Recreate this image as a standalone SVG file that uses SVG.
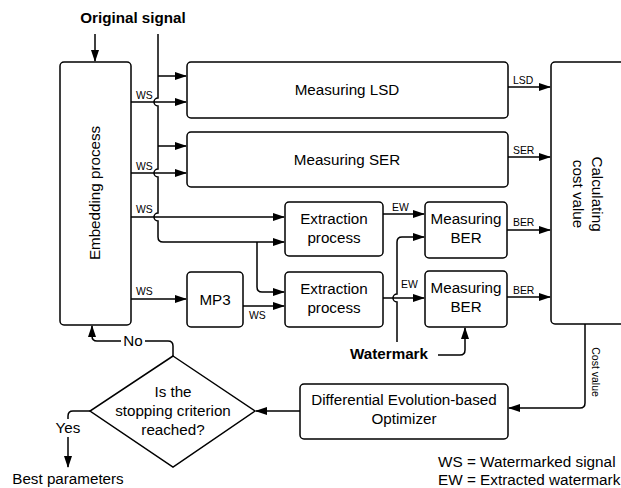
<svg xmlns="http://www.w3.org/2000/svg" width="621" height="488" viewBox="0 0 621 488">
<style>
.box{fill:#fff;stroke:#000;stroke-width:1.5}
.ln{fill:none;stroke:#000;stroke-width:1.5}
.t{font-family:"Liberation Sans",Arial,sans-serif;font-size:15.2px;fill:#000;text-anchor:middle}
.b{font-weight:bold}
.s{font-family:"Liberation Sans",Arial,sans-serif;font-size:10.4px;fill:#000}
.lg{font-family:"Liberation Sans",Arial,sans-serif;font-size:15.3px;fill:#000}
</style>
<defs>
<marker id="ar" markerWidth="12" markerHeight="8" refX="11" refY="4" orient="auto" markerUnits="userSpaceOnUse">
<path d="M0,0 L12,4 L0,8 Z" fill="#000"/>
</marker>
</defs>
<rect width="621" height="488" fill="#fff"/>

<g id="connectors">
<path class="ln" d="M95 34 V61" marker-end="url(#ar)"/>
<path class="ln" d="M158 34 V98 A4 4 0 0 0 158 106 V169 A4 4 0 0 0 158 177 V213 A4 4 0 0 0 158 221 V237 Q158 242 163 242 H284" marker-end="url(#ar)"/>
<path class="ln" d="M158 76 H186" marker-end="url(#ar)"/>
<path class="ln" d="M158 146 H186" marker-end="url(#ar)"/>
<path class="ln" d="M131 102 H186" marker-end="url(#ar)"/>
<path class="ln" d="M131 173 H186" marker-end="url(#ar)"/>
<path class="ln" d="M131 217 H284" marker-end="url(#ar)"/>
<path class="ln" d="M131 299 H186" marker-end="url(#ar)"/>
<path class="ln" d="M257 242 V287 Q257 292 262 292 H284" marker-end="url(#ar)"/>
<path class="ln" d="M243 306 H284" marker-end="url(#ar)"/>
<path class="ln" d="M383 214 H424" marker-end="url(#ar)"/>
<path class="ln" d="M383 298 H424" marker-end="url(#ar)"/>
<path class="ln" d="M397 342 V302 A4 4 0 0 1 397 294 V242 Q397 237 402 237 H424" marker-end="url(#ar)"/>
<path class="ln" d="M438 355 H460 Q465 355 465 350 V328" marker-end="url(#ar)"/>
<path class="ln" d="M508 87 H550" marker-end="url(#ar)"/>
<path class="ln" d="M508 157 H550" marker-end="url(#ar)"/>
<path class="ln" d="M507 230 H550" marker-end="url(#ar)"/>
<path class="ln" d="M507 297 H550" marker-end="url(#ar)"/>
<path class="ln" d="M585 324 V403 Q585 408 580 408 H509" marker-end="url(#ar)"/>
<path class="ln" d="M300 411 H256" marker-end="url(#ar)"/>
<path class="ln" d="M173 356 V346 Q173 341 168 341 H97 Q92 341 92 336 V326" marker-end="url(#ar)"/>
<path class="ln" d="M90 411 H73 Q68 411 68 416 V467" marker-end="url(#ar)"/>
<rect x="121" y="333" width="24" height="16" fill="#fff"/>
<rect x="54" y="419" width="28" height="18" fill="#fff"/>
<text class="t" x="133" y="346">No</text>
<text class="t" x="68" y="433">Yes</text>
<text class="s" x="136" y="99">WS</text>
<text class="s" x="136" y="170">WS</text>
<text class="s" x="136" y="213">WS</text>
<text class="s" x="136" y="295">WS</text>
<text class="s" x="249" y="319">WS</text>
<text class="s" x="392" y="211">EW</text>
<text class="s" x="401" y="288">EW</text>
<text class="s" x="513" y="84">LSD</text>
<text class="s" x="513" y="154">SER</text>
<text class="s" x="513" y="226">BER</text>
<text class="s" x="513" y="294">BER</text>
<text class="s" transform="translate(592 372) rotate(90)" text-anchor="middle" style="font-size:10.5px">Cost value</text>
</g>

<text class="t b" x="133" y="23">Original signal</text>
<text class="t b" x="389" y="359">Watermark</text>

<g id="embedding">
<rect class="box" x="60" y="62" width="71" height="263" rx="4"/>
<text class="t" transform="translate(100 193) rotate(-90)">Embedding process</text>
</g>
<g id="lsd">
<rect class="box" x="187" y="62" width="321" height="56" rx="4"/>
<text class="t" x="347" y="95">Measuring LSD</text>
</g>
<g id="ser">
<rect class="box" x="187" y="132" width="321" height="55" rx="4"/>
<text class="t" x="347" y="165">Measuring SER</text>
</g>
<g id="extract1">
<rect class="box" x="285" y="202" width="98" height="54" rx="4"/>
<text class="t" x="334" y="224">Extraction</text>
<text class="t" x="334" y="243">process</text>
</g>
<g id="extract2">
<rect class="box" x="285" y="272" width="98" height="55" rx="4"/>
<text class="t" x="334" y="294">Extraction</text>
<text class="t" x="334" y="313">process</text>
</g>
<g id="mp3">
<rect class="box" x="187" y="272" width="56" height="55" rx="4"/>
<text class="t" x="215" y="305">MP3</text>
</g>
<g id="ber1">
<rect class="box" x="425" y="202" width="82" height="56" rx="4"/>
<text class="t" x="466" y="224">Measuring</text>
<text class="t" x="466" y="243">BER</text>
</g>
<g id="ber2">
<rect class="box" x="425" y="271" width="82" height="56" rx="4"/>
<text class="t" x="466" y="293">Measuring</text>
<text class="t" x="466" y="312">BER</text>
</g>
<g id="cost">
<rect class="box" x="551" y="62" width="80" height="262" rx="4"/>
<text class="t" transform="translate(592 194) rotate(90)">Calculating</text>
<text class="t" transform="translate(573 194) rotate(90)">cost value</text>
</g>
<g id="optimizer">
<rect class="box" x="300" y="384" width="208" height="55" rx="4"/>
<text class="t" x="404" y="405">Differential Evolution-based</text>
<text class="t" x="404" y="424">Optimizer</text>
</g>
<g id="decision">
<path class="box" d="M173 356 L255 411 L173 467 L90 411 Z"/>
<text class="t" x="173" y="397">Is the</text>
<text class="t" x="173" y="416">stopping criterion</text>
<text class="t" x="173" y="435">reached?</text>
</g>
<text class="t" x="68" y="484">Best parameters</text>
<text class="lg" x="438" y="467">WS = Watermarked signal</text>
<text class="lg" x="438" y="485">EW = Extracted watermark</text>
</svg>
